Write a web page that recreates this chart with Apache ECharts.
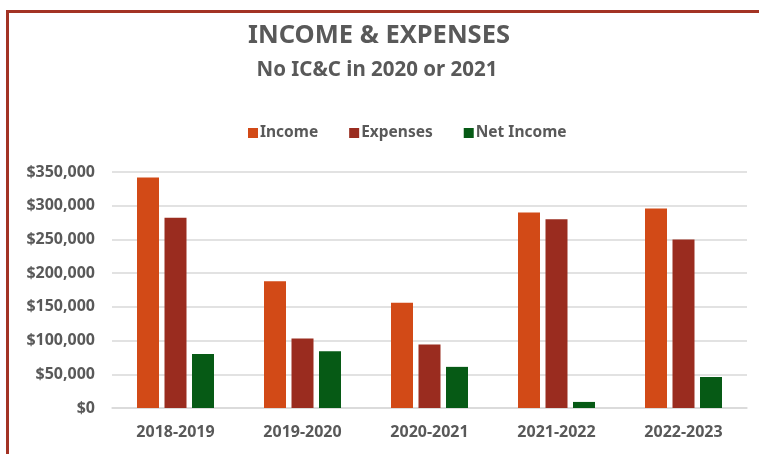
<!DOCTYPE html>
<html>
<head>
<meta charset="utf-8">
<script src="https://cdn.jsdelivr.net/npm/echarts@6/dist/echarts.min.js"></script>
<style>
  html, body { margin: 0; padding: 0; background: #fff; overflow: hidden; }
  #frame { position: absolute; left: 6px; top: 10px; width: 800px; height: 500px; border: 3px solid #A33324; box-sizing: border-box; }
  #chart { position: absolute; left: 0; top: 0; width: 759px; height: 454px; }
</style>
</head>
<body>
<div id="frame"></div>
<div id="chart"></div>
<script>
// fiscal years
const years = ['2018-2019', '2019-2020', '2020-2021', '2021-2022', '2022-2023']
const income = [342000, 188000, 156000, 290000, 296000]
const expenses = [282000, 103000, 94000, 280000, 250000]
const netIncome = [80000, 84000, 61000, 9000, 46000]

const textColor = '#595959'
const font = 'Noto Sans'

const chart = echarts.init(document.getElementById('chart'))

function money(v) {
  return '$' + v.toLocaleString('en-US')
}

chart.setOption({
  animation: false,
  title: [{
    text: 'INCOME & EXPENSES',
    left: 374,
    top: 18,
    textAlign: 'center',
    textStyle: { fontFamily: font, fontSize: 25.5, fontWeight: 'bold', color: textColor }
  }, {
    text: 'No IC&C in 2020 or 2021',
    left: 372,
    top: 55,
    textAlign: 'center',
    textStyle: { fontFamily: font, fontSize: 20.5, fontWeight: 'bold', color: textColor }
  }],
  legend: {
    top: 120,
    left: 243,
    itemWidth: 10,
    itemHeight: 10,
    itemGap: 31,
    icon: 'rect',
    textStyle: { fontFamily: font, fontSize: 15.5, fontWeight: 'bold', color: textColor, padding: [0, 0, 0, -3] },
    data: ['Income', 'Expenses', 'Net Income']
  },
  grid: {
    left: 112,
    right: 12,
    top: 172,
    bottom: 46
  },
  xAxis: {
    type: 'category',
    data: years,
    axisTick: { show: false },
    axisLine: { lineStyle: { color: '#D9D9D9', width: 1.5 } },
    axisLabel: { margin: 16, fontFamily: font, fontSize: 16, fontWeight: 'bold', color: textColor }
  },
  yAxis: {
    type: 'value',
    min: 0,
    max: 350000,
    interval: 50000,
    axisLine: { show: false },
    axisTick: { show: false },
    splitLine: { lineStyle: { color: '#D9D9D9', width: 1.5 } },
    axisLabel: { margin: 17, fontFamily: font, fontSize: 16, fontWeight: 'bold', color: textColor, formatter: money }
  },
  series: [{
    name: 'Income',
    type: 'bar',
    data: income,
    barWidth: 22,
    barGap: '25%',
    itemStyle: { color: '#D24A17' }
  }, {
    name: 'Expenses',
    type: 'bar',
    data: expenses,
    barWidth: 22,
    itemStyle: { color: '#9A2C1F' }
  }, {
    name: 'Net Income',
    type: 'bar',
    data: netIncome,
    barWidth: 22,
    itemStyle: { color: '#065A15' }
  }]
})
</script>
</body>
</html>
